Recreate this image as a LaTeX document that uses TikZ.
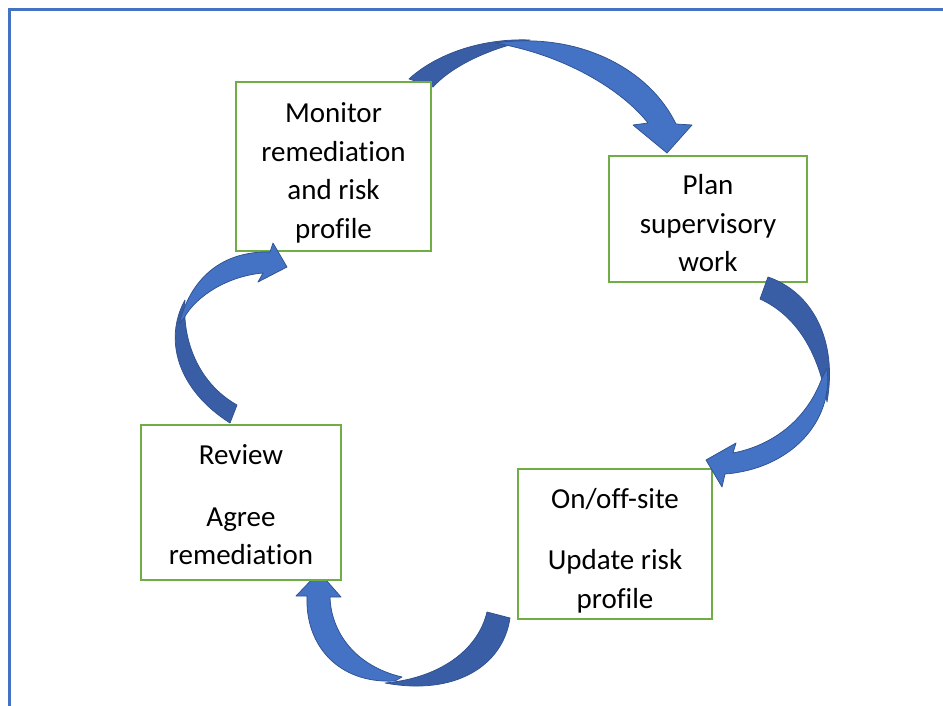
\documentclass[tikz,border=0pt]{standalone}
\usepackage{fontspec}
\setmainfont[Ligatures=NoCommon]{Carlito}
\usepackage{tikz}
\usetikzlibrary{positioning}
\definecolor{boxgreen}{HTML}{70AD47}
\definecolor{arrowlight}{HTML}{4472C4}
\definecolor{arrowdark}{HTML}{3A5EA5}
\definecolor{arrowedge}{HTML}{2F528F}
\newcommand{\gapstrut}[1]{\rule{0pt}{#1}}

\begin{document}
\begin{tikzpicture}[x=1pt,y=-1pt,
  stage/.style={draw=boxgreen, line width=2pt, fill=white, align=center, inner sep=0pt,
    font=\fontsize{29}{38.5}\selectfont},
  lightband/.style={fill=arrowlight, draw=arrowedge, line width=0.75pt, line join=round},
  darkband/.style={fill=arrowdark, draw=arrowedge, line width=0.75pt, line join=round}]
\useasboundingbox (0,0) rectangle (943,706);
\draw[arrowlight, line width=3pt] (9.5,706) -- (9.5,9.5) -- (943,9.5);

% top arrow, behind the boxes
\draw[darkband] (409,79) .. controls (435,55) and (480,38) .. (530,40)
  .. controls (490,48) and (452,66) .. (433,87) -- cycle;
\draw[lightband] (495,43) .. controls (580,31) and (650,70) .. (676,124)
  -- (692,125) -- (667,153) -- (633,125) -- (648,123)
  .. controls (622,90) and (565,55) .. (495,43) -- cycle;

% bottom arrow, behind the boxes
\draw[darkband] (510,618) .. controls (503,666) and (455,696) .. (385,683)
  .. controls (440,678) and (478,650) .. (487,612) -- cycle;
\draw[lightband] (395,681) .. controls (338,684) and (305,645) .. (307,596)
  -- (296,596) -- (319,572) -- (341,597) -- (330,597)
  .. controls (331,632) and (355,666) .. (402,677) -- cycle;

\node[stage, minimum width=195pt, minimum height=169pt] (monitor) at (333.5,166.5)
  {\gapstrut{33pt}Monitor\\remediation\\and risk\\profile};
\node[stage, minimum width=198pt, minimum height=126pt] (plan) at (708,219)
  {\gapstrut{29pt}Plan\\supervisory\\work};
\node[stage, minimum width=200pt, minimum height=155pt] (review) at (241,502.5)
  {\gapstrut{25pt}Review\\[23pt]Agree\\remediation};
\node[stage, minimum width=194pt, minimum height=150pt] (onoff) at (615,544)
  {\gapstrut{33pt}On/off-site\\[23pt]Update risk\\profile};

% right arrow
\draw[darkband] (768,277) .. controls (812,292) and (838,340) .. (827,402)
  .. controls (818,350) and (795,315) .. (760,299) -- cycle;
\draw[lightband] (827,368) .. controls (834,422) and (790,469) .. (725,474)
  -- (722,487) -- (706,460) -- (736,443) -- (733,453)
  .. controls (770,446) and (806,422) .. (822,378) -- cycle;

% left arrow
\draw[darkband] (230,423) .. controls (178,390) and (163,340) .. (185,300)
  .. controls (182,340) and (198,383) .. (237,405) -- cycle;
\draw[lightband] (179,324) .. controls (193,270) and (230,251) .. (270,252)
  -- (273,243) -- (287,267) -- (258,282) -- (263,273)
  .. controls (228,276) and (196,296) .. (184,318) -- cycle;
\end{tikzpicture}
\end{document}
